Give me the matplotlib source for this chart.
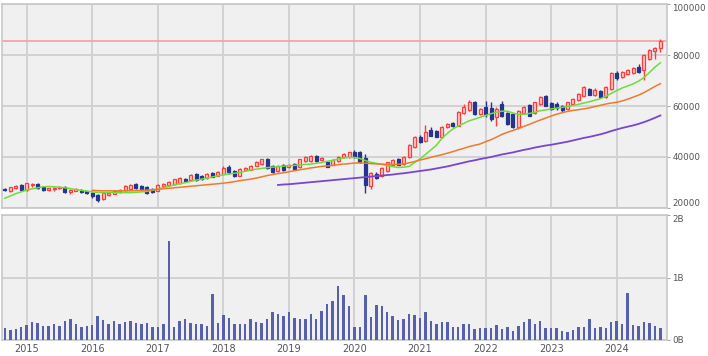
import numpy as np
import pandas as pd
import matplotlib
matplotlib.use("Agg")
import matplotlib.pyplot as plt

# monthly bars, Sep 2014 .. Sep 2024
months = pd.date_range("2014-09-01", periods=121, freq="MS")

opens = [27600, 26500, 27800, 29000, 27000, 28900, 29400, 28300, 27000, 27400, 27800, 28300,
         26300, 26800, 27000, 26500, 26000, 25200, 23500, 25200, 25600, 26300, 27000, 27500,
         29200, 28500, 28200, 27300, 26800, 28700, 29000, 29400, 29700, 31200, 31000, 33200,
         32400, 31700, 33800, 32700, 33500, 36200, 34400, 32700, 34800, 35000, 36600, 37100,
         39100, 36400, 34400, 36800, 35900, 37200, 35900, 38500, 38300, 40500, 38800, 37900,
         37000, 38400, 39900, 40100, 42000, 41800, 39800, 28700, 33300, 32600, 34600, 37000,
         39200, 37200, 39900, 43800, 48000, 46100, 50600, 50400, 48000, 51900, 53500, 52300,
         57200, 58500, 61500, 56900, 59500, 59300, 55600, 60900, 57200, 56700, 51900, 57200,
         60600, 57200, 60900, 64100, 61100, 60900, 60200, 58900, 60900, 62200, 64100, 66800,
         64500, 66100, 63500, 66800, 72900, 71400, 72500, 72900, 75300, 74000, 78600, 81500,
         82800]
highs = [28000, 28400, 28900, 29400, 29900, 29800, 29900, 28600, 28000, 28100, 28500, 28700,
         27300, 27700, 27300, 26800, 26400, 25500, 26200, 26300, 27100, 27300, 28900, 29200,
         29700, 28900, 28600, 27700, 29300, 29900, 30500, 31500, 32200, 31600, 33300, 33600,
         32800, 33800, 34200, 34600, 36400, 37000, 34800, 35600, 36100, 36800, 38400, 39400,
         39500, 36900, 36900, 37300, 37300, 37600, 39400, 40400, 40800, 40900, 40100, 38300,
         39300, 40400, 41500, 42100, 42800, 42200, 41000, 34300, 34000, 36000, 38200, 39100,
         39600, 40400, 45100, 48300, 48600, 52700, 51900, 50800, 52200, 53500, 53900, 57900,
         60900, 62300, 62000, 59200, 61900, 61500, 59500, 61900, 57600, 57000, 58500, 60100,
         61000, 61800, 63800, 64500, 61500, 61800, 60600, 61800, 63100, 65100, 67800, 67200,
         67000, 66500, 67800, 73300, 73800, 73700, 74400, 75500, 76700, 80300, 82500, 83300,
         86200]
lows = [26600, 26100, 27500, 26500, 26600, 28300, 27300, 26800, 26600, 26700, 27500, 25900,
        25400, 26500, 25900, 25300, 24000, 22400, 23200, 24800, 25300, 25900, 26700, 27200,
        27600, 27200, 25500, 25800, 26500, 28400, 28700, 29100, 29400, 30200, 30700, 30600,
        31000, 31400, 32000, 32400, 33200, 33400, 32200, 32400, 34500, 34700, 36300, 36800,
        35300, 33700, 34100, 34600, 35600, 34900, 35600, 38200, 38000, 38200, 38500, 35900,
        36700, 38100, 39600, 39800, 39600, 37600, 25700, 27600, 31400, 32300, 34300, 36700,
        36700, 36900, 39600, 43500, 45400, 45800, 48100, 47700, 47600, 51500, 51900, 52000,
        56900, 58200, 56600, 56600, 55900, 54000, 52300, 55900, 52600, 51300, 51000, 56800,
        56000, 56900, 60600, 59900, 58600, 58500, 57500, 58600, 60600, 61900, 63800, 64200,
        64100, 63200, 63200, 66500, 70300, 71100, 72200, 72600, 73000, 70300, 78300, 78500,
        81300]
closes = [26900, 28200, 28600, 27000, 29600, 29300, 27800, 27100, 27900, 27900, 28300, 26300,
          27000, 27500, 26100, 25700, 24500, 23000, 25800, 26000, 26800, 27100, 28600, 29000,
          27900, 27500, 25800, 26100, 29000, 29500, 30200, 31200, 31900, 30500, 32900, 31000,
          31300, 33400, 32300, 34300, 35800, 34000, 32500, 35200, 35800, 36500, 38100, 39100,
          35600, 34200, 36500, 34900, 37000, 35200, 39100, 40100, 40400, 38500, 39800, 36200,
          39000, 40100, 41200, 41800, 39900, 37900, 29000, 33900, 31700, 35700, 37900, 38800,
          37000, 40100, 44800, 48000, 45700, 49700, 48400, 48000, 51800, 53000, 52200, 57600,
          59500, 61800, 56900, 58900, 56900, 55000, 58900, 56300, 53000, 51900, 58200, 59800,
          56300, 61500, 63500, 60200, 58900, 59300, 58300, 61500, 62800, 64800, 67400, 64500,
          66500, 63500, 67400, 72900, 71100, 73300, 74000, 75100, 73300, 79900, 82100, 82800,
          85600]

# volume in billions of shares
volume = [0.19, 0.16, 0.17, 0.21, 0.24, 0.28, 0.27, 0.23, 0.23, 0.26, 0.23, 0.30,
          0.33, 0.26, 0.21, 0.23, 0.24, 0.39, 0.32, 0.26, 0.30, 0.26, 0.28, 0.30,
          0.27, 0.25, 0.27, 0.20, 0.21, 0.26, 1.59, 0.21, 0.30, 0.34, 0.27, 0.26,
          0.25, 0.23, 0.74, 0.27, 0.40, 0.35, 0.26, 0.25, 0.26, 0.34, 0.28, 0.27,
          0.33, 0.45, 0.41, 0.39, 0.44, 0.35, 0.33, 0.33, 0.41, 0.33, 0.47, 0.57,
          0.63, 0.87, 0.72, 0.54, 0.21, 0.21, 0.72, 0.36, 0.56, 0.55, 0.45, 0.39,
          0.32, 0.33, 0.42, 0.40, 0.35, 0.44, 0.30, 0.26, 0.29, 0.28, 0.21, 0.20,
          0.26, 0.26, 0.17, 0.19, 0.19, 0.19, 0.24, 0.17, 0.20, 0.14, 0.23, 0.28,
          0.34, 0.26, 0.30, 0.19, 0.19, 0.19, 0.14, 0.13, 0.16, 0.20, 0.21, 0.33,
          0.19, 0.20, 0.19, 0.28, 0.30, 0.26, 0.75, 0.24, 0.23, 0.28, 0.27, 0.23,
          0.19]

# moving averages (None = not drawn yet)
ma_green = [23800, 24700, 25600, 26300, 27000, 27500, 27900, 28300, 28400, 28300, 28100, 27900,
            27600, 27200, 26900, 26600, 26300, 26100, 26000, 26000, 26000, 26000, 26000, 26000,
            26100, 26300, 26500, 26900, 27400, 28000, 28500, 29000, 29500, 29900, 30400, 30900,
            31300, 31700, 32200, 32600, 33000, 33300, 33600, 33900, 34400, 34900, 35200, 35500,
            35800, 36000, 36200, 36400, 36600, 36700, 36900, 37100, 37200, 37500, 37800, 38300,
            38700, 39200, 39600, 39900, 39800, 39400, 38600, 37900, 37500, 37100, 36600, 36200,
            35900, 36000, 36300, 37800, 39300, 41000, 42800, 44600, 47300, 49300, 51000, 52200,
            53200, 54200, 54900, 55600, 56300, 57000, 57600, 58000, 58000, 57300, 56700, 56800,
            57100, 57500, 58200, 58500, 58900, 59200, 59500, 59900, 60200, 60700, 61200, 61700,
            62300, 62900, 63800, 65000, 66100, 67100, 67900, 68700, 69800, 71200, 73200, 75300,
            77000]
ma_orange = [None] * 16 + [
            26900, 26800, 26700, 26700, 26700, 26700, 26700, 26700,
            26800, 26900, 27000, 27100, 27300, 27500, 27700, 27900, 28100, 28300, 28500, 28700,
            28900, 29100, 29300, 29500, 29700, 30000, 30300, 30700, 31000, 31300, 31700, 32200,
            32700, 33100, 33500, 33800, 34200, 34600, 35000, 35300, 35700, 36000, 36300, 36500,
            36700, 37000, 37200, 37400, 37600, 37700, 37600, 37400, 37300, 37200, 37100, 37100,
            37100, 37300, 37700, 38200, 38800, 39300, 39900, 40400, 40900, 41500, 42100, 42800,
            43400, 44100, 44600, 45100, 46000, 46800, 47800, 48900, 49700, 50400, 51200, 52000,
            52800, 53700, 54500, 55300, 56100, 56800, 57400, 57900, 58300, 58600, 58900, 59300,
            59800, 60300, 60800, 61200, 61500, 62000, 62700, 63500, 64300, 65300, 66500, 67700,
            68800]
ma_purple = [None] * 50 + [
            29000, 29200, 29300, 29500, 29700, 29900, 30100, 30300, 30500, 30700,
            30900, 31100, 31300, 31500, 31700, 31900, 32100, 32300, 32500, 32700, 32900, 33100,
            33400, 33600, 33900, 34200, 34500, 34800, 35100, 35500, 35900, 36300, 36800, 37300,
            37800, 38300, 38700, 39200, 39600, 40000, 40500, 41000, 41400, 41800, 42300, 42800,
            43200, 43700, 44100, 44500, 44800, 45200, 45600, 46000, 46500, 47000, 47500, 47900,
            48400, 48900, 49500, 50200, 50800, 51400, 51900, 52400, 53000, 53700, 54500, 55400,
            56300]

high_line = 85500

x = np.arange(len(months))
o = np.array(opens, float)
h = np.array(highs, float)
l = np.array(lows, float)
c = np.array(closes, float)
up = c >= o

bg = "#f0f0f0"
grid_c = "#d2d2d2"
txt_c = "#555555"

fig = plt.figure(figsize=(7.08, 3.56), dpi=100)
ax = fig.add_axes([0.003, 0.416, 0.939, 0.572])
axv = fig.add_axes([0.003, 0.045, 0.939, 0.351], sharex=ax)

year_pos = x[months.month == 1]
year_lab = [str(d.year) for d in months[months.month == 1]]

for a in (ax, axv):
    a.set_facecolor(bg)
    a.set_axisbelow(True)
    a.grid(True, color=grid_c, linewidth=1.4)
    for s in a.spines.values():
        s.set_color("#c8c8c8")
        s.set_linewidth(1.2)
    a.yaxis.tick_right()
    a.tick_params(axis="y", length=2.5, color="#aaaaaa", labelsize=6.3, labelcolor=txt_c, pad=1.5)
    a.set_xticks(year_pos)

# price panel
ax.axhline(high_line, color="#f4a4a4", linewidth=1.3, zorder=2)
ax.vlines(x[up], l[up], h[up], color="#ff3c3c", linewidth=1, zorder=3)
ax.vlines(x[~up], l[~up], h[~up], color="#26348c", linewidth=1, zorder=3)
ax.bar(x[up], np.maximum(c[up] - o[up], 150), bottom=o[up], width=0.55,
       facecolor="#ffcccc", edgecolor="#ff3c3c", linewidth=0.9, zorder=4)
ax.bar(x[~up], np.maximum(o[~up] - c[~up], 150), bottom=c[~up], width=0.55,
       facecolor="#26348c", edgecolor="#26348c", linewidth=0.9, zorder=4)

ax.plot(x, np.array(ma_green, float), color="#6fdc3c", linewidth=1.1, zorder=5)
ax.plot(x, np.array(ma_orange, float), color="#ef7a2c", linewidth=1.1, zorder=5)
ax.plot(x, np.array(ma_purple, float), color="#7a45cf", linewidth=1.3, zorder=5)

ax.set_ylim(20000, 100000)
ax.set_yticks([20000, 40000, 60000, 80000, 100000])
ax.set_yticklabels(["20000", "40000", "60000", "80000", "100000"])
ax.get_yticklabels()[-1].set_va("top")
ax.get_yticklabels()[0].set_va("bottom")
ax.tick_params(axis="x", length=0, labelbottom=False)
ax.set_xlim(-0.5, 121.2)

# volume panel
axv.bar(x, volume, width=0.45, color="#5761ab", zorder=3)
axv.set_ylim(0, 2)
axv.set_yticks([0, 1, 2])
axv.set_yticklabels(["0B", "1B", "2B"])
axv.get_yticklabels()[-1].set_va("top")
axv.set_xticklabels(year_lab)
axv.tick_params(axis="x", length=0, labelsize=7, labelcolor=txt_c, pad=3)

fig.savefig("out.png", dpi=100, facecolor="white")
